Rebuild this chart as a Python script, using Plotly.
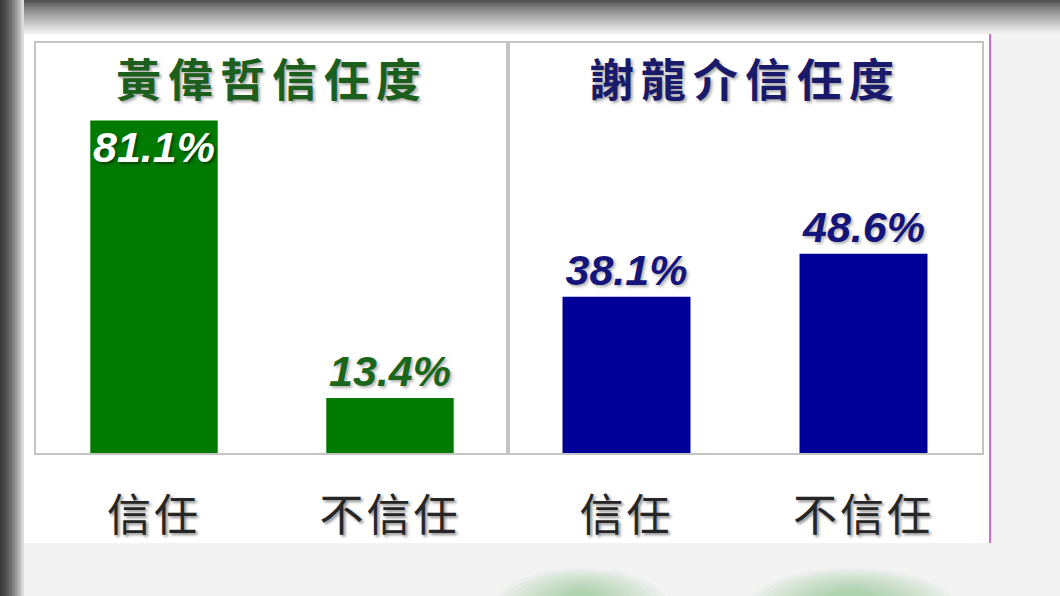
import plotly.graph_objects as go

# ---- data ----
categories = ["信任", "不信任"]
huang_values = [81.1, 13.4]
hsieh_values = [38.1, 48.6]
huang_labels = ["81.1%", "13.4%"]
hsieh_labels = ["38.1%", "48.6%"]
titles = ["黃偉哲信任度", "謝龍介信任度"]

W, H = 1060, 596


def px(x):
    return x / W


def py(y):
    return 1 - y / H


def mix(c0, c1, t):
    return "rgb(%d,%d,%d)" % tuple(round(a + (b - a) * t) for a, b in zip(c0, c1))


GREEN = "#007a00"
NAVY = "#000099"
GREEN_TXT = "#1a661a"
NAVY_TXT = "#14147a"
NUM_FONT = "Liberation Sans, Arial, sans-serif"
CJK_FONT = "Noto Sans CJK TC, Noto Sans CJK SC, sans-serif"
SHADOW = "2px 2px 3px rgba(0,0,0,0.45)"

fig = go.Figure()


def add_bars(values, labels, color, txtcolor, xa, ya, positions):
    fig.add_trace(go.Bar(
        x=categories, y=values, text=labels,
        textposition=positions, insidetextanchor="end",
        constraintext="none", cliponaxis=False, textangle=0,
        width=0.54,
        marker=dict(color=color, line=dict(width=0)),
        insidetextfont=dict(family=NUM_FONT, size=43, color="white",
                            weight="bold", style="italic", shadow=SHADOW),
        outsidetextfont=dict(family=NUM_FONT, size=43, color=txtcolor,
                             weight="bold", style="italic",
                             shadow="2px 2px 3px rgba(0,0,0,0.3)"),
        xaxis=xa, yaxis=ya, showlegend=False, hoverinfo="skip",
    ))


add_bars(huang_values, huang_labels, GREEN, GREEN_TXT, "x", "y", ["inside", "outside"])
add_bars(hsieh_values, hsieh_labels, NAVY, NAVY_TXT, "x2", "y2", ["outside", "outside"])

ticktext = ['<span style="letter-spacing:3px">%s</span>' % c for c in categories]

xaxis_common = dict(
    type="category", range=[-0.5, 1.5],
    showline=True, mirror=True, linecolor="#c4c4c4", linewidth=1.5,
    showgrid=False, zeroline=False, ticks="",
    tickvals=categories, ticktext=ticktext,
    tickfont=dict(family=CJK_FONT, size=44, color="#262626", shadow=SHADOW),
    ticklabelstandoff=23,
    fixedrange=True,
)
yaxis_common = dict(
    range=[0, 100], showline=True, mirror=True, linecolor="#c4c4c4", linewidth=1.5,
    showgrid=False, zeroline=False, showticklabels=False, ticks="",
    fixedrange=True,
)

# ---- background decoration shapes ----
shapes = []
# blurred green blobs at bottom (stacked translucent ellipses)
for cx0, cx1 in [(493, 670), (746, 957)]:
    for k in range(12):
        s = k * 6
        shapes.append(dict(type="circle", xref="paper", yref="paper", layer="below",
                           x0=px(cx0 + s), x1=px(cx1 - s),
                           y0=py(650), y1=py(568 + s * 0.35),
                           fillcolor="rgba(120,180,120,0.06)", line=dict(width=0)))
# top band gradient (nested rects, no seams)
N = 24
for k in range(N, 0, -1):
    t = (k - 1) / (N - 1)
    c = mix((80, 80, 80), (240, 240, 240), t ** 0.8)
    shapes.append(dict(type="rect", xref="paper", yref="paper", layer="below",
                       x0=0, x1=1, y0=py(34 * k / N), y1=1,
                       fillcolor=c, line=dict(width=0)))
# left strip gradient (nested rects)
N = 16
for k in range(N, 0, -1):
    t = (k - 1) / (N - 1)
    c = mix((58, 58, 58), (222, 222, 222), t ** 1.4)
    shapes.append(dict(type="rect", xref="paper", yref="paper", layer="below",
                       x0=0, x1=px(24 * k / N), y0=0, y1=1,
                       fillcolor=c, line=dict(width=0)))
# white panel
shapes.append(dict(type="rect", xref="paper", yref="paper", layer="below",
                   x0=px(24), x1=px(990), y0=py(543), y1=py(34),
                   fillcolor="white", line=dict(width=0)))
# magenta line
shapes.append(dict(type="line", xref="paper", yref="paper", layer="above",
                   x0=px(990), x1=px(990), y0=py(543), y1=py(34),
                   line=dict(color="#cc33cc", width=1.5)))

annotations = []
for t, col, cx in [(titles[0], "#1c5e1c", 272), (titles[1], "#1a1a6a", 745)]:
    annotations.append(dict(
        text='<span style="letter-spacing:7px">%s</span>' % t,
        xref="paper", yref="paper", x=px(cx), y=py(78),
        xanchor="center", yanchor="middle", showarrow=False,
        font=dict(family=CJK_FONT, size=45, color=col, weight="bold",
                  shadow="2px 2px 3px rgba(0,0,0,0.35)"),
    ))

fig.update_layout(
    width=W, height=H,
    margin=dict(l=0, r=0, t=0, b=0),
    paper_bgcolor="#f3f3f3",
    plot_bgcolor="rgba(0,0,0,0)",
    bargap=0.46,
    xaxis=dict(domain=[px(36), px(508)], anchor="y", **xaxis_common),
    yaxis=dict(domain=[py(453), py(43)], anchor="x", **yaxis_common),
    xaxis2=dict(domain=[px(508), px(982)], anchor="y2", **xaxis_common),
    yaxis2=dict(domain=[py(453), py(43)], anchor="x2", **yaxis_common),
    shapes=shapes,
    annotations=annotations,
    showlegend=False,
)

fig.write_html(
    "out.html",
    config={"displayModeBar": False},
    post_script="document.body.style.margin='0';document.body.style.overflow='hidden';",
)
